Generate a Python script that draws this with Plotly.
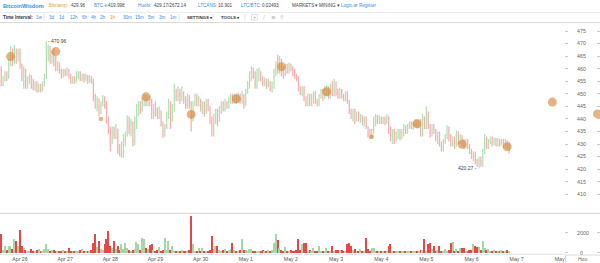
import plotly.graph_objects as go
import pandas as pd

W, H = 600, 263
FONT = "Liberation Sans, Arial, sans-serif"

# ---------------- data ----------------
start_time = "2014-04-25 14:00"   # first hourly candle
first_open = 460

close_px = [
    454, 456, 458, 457, 462, 466, 463, 467, 464, 466,
    461, 457, 459, 455, 456, 457, 455, 453, 454, 452, 453, 451.5, 454, 457, 466, 468, 463, 466, 463, 460, 462, 459, 457, 459,
    458, 459.5, 457, 455, 456, 455, 457.5, 458, 456, 457, 455.5, 457, 455, 456.5, 455, 448, 446, 448, 443, 446, 448, 446, 440, 436,
    431, 436, 433, 436, 428, 426, 429, 431, 434, 440, 436, 438, 430, 437, 444, 446, 444, 447, 448.5, 446, 448, 446.5, 441, 445,
    443, 441, 443, 438, 433, 437, 442, 446, 440, 444, 450, 448, 451, 448, 450, 447, 445, 448, 445, 440, 446, 449, 446, 447.5,
    444, 446, 443, 446.5, 444, 440, 436, 440, 443, 441, 444, 446, 444, 446, 445, 448, 449, 447, 449, 447, 449, 447.5, 449, 446,
    451, 453, 457, 460, 458, 453, 457, 459, 456, 454, 455.5, 454, 455, 452, 454, 459, 461, 459, 463, 460, 458, 461, 459, 461,
    460, 459, 457, 456, 452, 451, 452, 448, 447, 449, 446, 448, 450, 447, 446, 449, 451, 449, 451, 452, 450, 453, 450, 454,
    451, 449, 451, 449, 448, 450, 447, 443, 441, 443, 440, 442, 439.5, 441, 438, 440, 437, 434, 433, 435, 439, 441, 439, 440.5,
    439, 440, 438.5, 441, 436, 433, 435, 432, 434, 435.5, 433, 435, 436.5, 435, 437, 438, 436.5, 438, 439, 437.5, 439, 434, 440, 437,
    442, 437, 434, 437, 435, 432, 434, 430, 428, 431, 433, 436, 433, 430, 432, 429, 434, 431, 433, 430, 429, 431, 429, 427,
    425, 426, 423, 422, 424, 422, 427, 432, 429, 431, 432, 430, 431.5, 430, 431.5, 430, 431, 429.5, 431, 429, 430,
]
high_px = [
    461, 457, 459, 459, 464, 469, 468, 469.5, 468, 468,
    468, 462, 461, 460, 457, 458, 457.5, 456, 455, 455, 454, 454, 455, 458, 470.96, 469.5, 469, 467, 468, 465, 463, 462.5, 460, 460,
    460, 460.5, 460, 458, 457, 457, 459, 459, 459, 458, 458, 458, 457.5, 457.5, 457, 456, 450, 449, 448, 447, 449.5, 449, 447, 441,
    437, 437, 437, 438, 436, 430, 431, 434, 435, 441.5, 441, 440, 439, 441, 446, 447, 447, 448.5, 450, 449.5, 449, 449, 448, 446,
    447, 444.5, 445, 443.5, 439, 438, 443, 448, 447, 446, 454, 452, 453, 452, 453, 451, 449, 450, 449.5, 447, 447, 450, 450, 449,
    448, 447, 447, 448, 448, 445, 441, 442, 444, 444, 445, 447, 447, 448, 447, 449, 450, 450, 450, 450, 450.5, 450, 451, 450,
    452, 455, 459, 461, 460.5, 459, 460, 460.5, 459, 457, 456.5, 456, 456, 455, 455, 460, 463, 465.5, 465, 464, 461, 462, 462, 462.5,
    462, 461, 460, 458, 457, 453, 453, 453, 449, 450, 450, 450, 451, 451, 448, 450, 452, 452, 453, 453.5, 453, 454, 455, 456,
    455, 452, 452.5, 452, 450, 451, 451, 447.5, 444, 444, 444, 443, 443, 442, 441.5, 441, 441, 437, 436, 436, 441, 442, 441.5, 441.5,
    441, 441, 441, 442, 441, 437, 436, 436, 435, 436, 436, 436, 438, 437.5, 438, 439, 439, 439, 440, 440, 440, 440, 442, 441,
    445, 443, 438, 438, 438, 436, 435, 435, 431, 432, 434, 437.5, 437, 434, 433, 433, 435.5, 435, 434, 433.5, 432, 432, 432, 430,
    428, 427, 427, 424, 425, 425, 428, 434, 433, 432, 433, 433, 432.5, 432.5, 432.5, 432, 432, 432, 432, 431.5, 431,
]
low_px = [
    453, 453, 455, 455, 456, 461, 461, 462, 462, 463,
    460, 455, 452, 452, 452, 454, 452, 451.5, 451, 450.5, 450.5, 450.5, 451, 453, 456, 463, 462, 462, 461, 459, 459, 458, 456, 456.5,
    457, 457, 456, 454, 454, 454, 454.5, 456, 455, 455, 454.5, 455, 454, 454.5, 454, 447, 444, 443, 441, 442, 445, 444, 438, 434,
    427, 430, 432, 432, 426, 425, 424.5, 424.5, 429, 433, 434, 433, 429, 429.5, 436, 441, 442, 443, 445, 445, 445, 445, 440, 440,
    441, 440, 440, 437, 432.5, 433, 436, 440, 436, 439, 443, 447, 447, 446, 447, 446, 444, 444, 444, 435, 439, 445, 445, 445,
    443, 442, 441, 442, 443, 438, 433, 433, 438, 437, 439, 442, 443, 443, 444, 444, 446, 446, 446, 446, 446.5, 446, 446, 444,
    445, 450, 452, 455, 456, 452, 452, 455, 455, 453, 453, 452, 452.5, 451, 450.5, 452, 457, 458, 458, 457, 456, 457, 458, 458,
    459, 457, 456, 455, 451, 449.5, 449, 447, 445, 445, 445, 445, 446, 446, 445, 445, 448, 447, 448, 449, 448, 448, 449, 449,
    449, 448, 448, 448, 447, 447, 446, 442, 440, 439, 438, 439, 439, 438.5, 437.5, 437, 436, 432.5, 432, 432, 434, 437, 438, 438,
    438, 438, 437.5, 438, 434, 431, 430, 430, 431, 432, 431.5, 432, 433, 434, 434, 436, 436, 435.5, 437, 436.5, 436.5, 433, 433, 436,
    436, 436, 432.5, 433, 434, 431, 430, 429, 427, 427, 430, 432, 431, 429, 429, 428, 429, 430, 430, 429, 428, 428, 428, 426,
    424, 423, 422, 421, 420.27, 421, 421, 426, 428, 428, 430, 429, 429.5, 429, 429, 429, 429.5, 428.5, 428.5, 428, 426,
]
volume = [
    1900, 300, 650, 250, 650, 720, 400, 1330, 1160, 660,
    2230, 660, 500, 300, 200, 150, 350, 200, 150, 250, 400, 200, 150, 350, 900, 400, 200, 250, 300, 150, 200, 100, 150, 300,
    200, 150, 450, 200, 100, 100, 150, 100, 300, 350, 150, 100, 100, 200, 300, 1000, 1900, 550, 1160, 400, 300, 830, 1330, 2170,
    700, 500, 1160, 400, 660, 300, 830, 400, 1000, 500, 300, 200, 250, 350, 1100, 830, 300, 1500, 1400, 500, 400, 760, 830, 300,
    200, 300, 600, 200, 300, 1500, 300, 1160, 300, 660, 200, 150, 200, 150, 250, 150, 150, 200, 300, 3660, 830, 200, 150, 500,
    200, 500, 150, 150, 200, 300, 1660, 400, 660, 660, 300, 200, 300, 400, 200, 300, 400, 1000, 300, 200, 200, 300, 1330, 250,
    300, 200, 400, 350, 200, 200, 150, 150, 200, 250, 150, 200, 300, 200, 300, 1000, 1900, 1250, 500, 300, 200, 600, 200, 150,
    300, 200, 200, 300, 1330, 300, 830, 1000, 1000, 200, 300, 200, 500, 150, 200, 660, 200, 150, 200, 500, 150, 200, 660, 200,
    300, 300, 250, 300, 200, 150, 830, 1000, 660, 250, 330, 200, 200, 400, 150, 200, 1500, 400, 200, 500, 500, 200, 150, 150,
    150, 100, 150, 200, 660, 830, 200, 150, 150, 100, 150, 100, 150, 100, 150, 200, 150, 100, 150, 200, 150, 300, 300, 1330,
    200, 900, 1000, 400, 660, 200, 300, 660, 200, 150, 330, 200, 300, 1000, 1050, 200, 330, 200, 430, 430, 430, 200, 150, 300,
    300, 830, 660, 600, 600, 300, 1160, 500, 300, 400, 200, 150, 250, 200, 150, 200, 250, 150, 200, 250, 200,
]
circle_times = ["2014-04-25 19:00", "2014-04-26 19:00", "2014-04-27 19:00", "2014-04-28 19:00",
                "2014-04-29 19:00", "2014-04-30 19:00", "2014-05-01 19:00", "2014-05-02 19:00",
                "2014-05-03 19:00", "2014-05-04 19:00", "2014-05-05 19:00", "2014-05-06 19:00",
                "2014-05-07 19:00", "2014-05-08 19:00"]
circle_vals = [464.8, 466.8, 440.0, 448.8, 441.8, 448.0, 460.8, 450.8, 432.9, 438.0, 429.9, 428.9, 446.7, 442.0]

price_ticks = [410, 415, 420, 425, 430, 435, 440, 445, 450, 455, 460, 465, 470, 475]
volume_ticks = [0, 2000]
volume_ticktext = ["\u20070", "2000"]
date_ticks = ["2014-04-26", "2014-04-27", "2014-04-28", "2014-04-29", "2014-04-30", "2014-05-01",
              "2014-05-02", "2014-05-03", "2014-05-04", "2014-05-05", "2014-05-06", "2014-05-07", "2014-05-08"]
high_label = 470.96
low_label = 420.27

# ---------------- styles ----------------
circle_sizes = [9, 9, 4.5, 9, 9, 9, 9, 9, 4.5, 9, 9, 9, 9, 9]
UP, DOWN = "#b4e1b4", "#f6b0b0"
VUP, VDOWN = "#a3d7a3", "#e64848"
ORANGE = "rgba(214,128,46,0.86)"

times = pd.date_range(start_time, periods=len(close_px), freq="h")
opens = [first_open] + close_px[:-1]
vcolors = [VUP if c >= o else VDOWN for o, c in zip(opens, close_px)]

fig = go.Figure()
fig.add_trace(go.Bar(x=times, y=volume, marker_color=vcolors, marker_line_width=0,
                     width=0.7 * 3600 * 1000, xaxis="x", yaxis="y2", hoverinfo="skip"))
fig.add_trace(go.Ohlc(x=times, open=opens, high=high_px, low=low_px, close=close_px,
                      increasing=dict(line=dict(color=UP, width=1.3)),
                      decreasing=dict(line=dict(color=DOWN, width=1.3)),
                      tickwidth=0.3, xaxis="x", yaxis="y", hoverinfo="skip"))
fig.add_trace(go.Scatter(x=pd.to_datetime(circle_times), y=circle_vals, mode="markers",
                         marker=dict(size=circle_sizes, color=ORANGE, line=dict(width=0)),
                         xaxis="x", yaxis="y", hoverinfo="skip", cliponaxis=False))
# helper traces so the label axes exist
fig.add_trace(go.Scatter(x=[], y=[], xaxis="x", yaxis="y3", showlegend=False))
fig.add_trace(go.Scatter(x=[], y=[], xaxis="x", yaxis="y4", showlegend=False))

price_range = [403.74, 477.39]
vol_range = [-230, 3970]
dom_price = [(H - 210) / H, (H - 25) / H]
dom_vol = [(H - 255) / H, (H - 213) / H]

tickfont = dict(size=5.3, color="#666", family=FONT)

def px(x):
    return x / W

def py(y):
    return 1 - y / H

annotations = []

def ann(text, x, y, size=4.6, color="#444", bold=False, xanchor="left", family=FONT):
    annotations.append(dict(text=f"<b>{text}</b>" if bold else text, x=px(x), y=py(y),
                            xref="paper", yref="paper", xanchor=xanchor, yanchor="middle",
                            showarrow=False, borderpad=0, font=dict(size=size, color=color, family=family)))

BLUE = "#3a8ee6"
ann("BitcoinWisdom", 1.5, 6, size=5.6, color="#3b8fd9", bold=True)
ann("Bitstamp:", 48, 6, color="#f0a030")
ann("429.96", 70, 6)
ann("BTC-e:", 93, 6, color=BLUE)
ann("419.998", 107, 6)
ann("Huobi:", 137, 6, color=BLUE)
ann("429.17/2672.14", 153, 6)
ann("LTCANS:", 197, 6, color=BLUE)
ann("10.901", 217, 6)
ann("LTC/BTC:", 240, 6, color=BLUE)
ann("0.02493", 261, 6)
ann("MARKETS \u25be", 291, 6)
ann("MINING \u25be", 318, 6)
ann(f"<span style='color:{BLUE}'>Login</span> or <span style='color:{BLUE}'>Register</span>", 340, 6, color="#666")

ann("Time Interval:", 1.5, 17.3, color="#333", bold=True)
for lab, x in [("1w", 35), ("3d", 48), ("1d", 58), ("12h", 69), ("6h", 81), ("4h", 90), ("2h", 99),
               ("1h", 109), ("30m", 122), ("15m", 134), ("5m", 147), ("3m", 158), ("1m", 169)]:
    ann(lab, x, 17.3, color="#f08c1c" if lab == "1h" else BLUE)
ann("SETTINGS \u25be", 186, 17.3, color="#333", bold=True, size=4.4)
ann("TOOLS \u25be", 220, 17.3, color="#333", bold=True, size=4.4)
ann("+", 254.5, 17.3, color="#999", size=5, xanchor="center")
ann("\u2215", 263.5, 17.3, color="#bbb", size=5.5, xanchor="center", family="DejaVu Sans")
ann("\u2261", 273, 17.3, color="#aaa", size=5.5, xanchor="center", family="DejaVu Sans")
ann("\u26b2", 282, 17.3, color="#bbb", size=5, xanchor="center", family="DejaVu Sans")

# price extreme labels (data coords)
annotations.append(dict(text="- 470.96", x=times[24], y=high_label, xref="x", yref="y",
                        xanchor="left", yanchor="middle", xshift=1, showarrow=False, borderpad=0,
                        font=dict(size=5, color="#444", family=FONT)))
annotations.append(dict(text="420.27 -", x=times[254], y=low_label, xref="x", yref="y",
                        xanchor="right", yanchor="middle", xshift=-1, showarrow=False, borderpad=0,
                        font=dict(size=5, color="#444", family=FONT)))
ann("Hou", 577, 259.3, size=5, color="#666")

shapes = [
    dict(type="line", xref="paper", yref="paper", x0=0, x1=1, y0=py(12.3), y1=py(12.3),
         line=dict(color="#e8e8e8", width=1)),
    dict(type="line", xref="paper", yref="paper", x0=0, x1=1, y0=py(22.5), y1=py(22.5),
         line=dict(color="#d9d9d9", width=1)),
    dict(type="line", xref="paper", yref="paper", x0=0, x1=1, y0=py(213.3), y1=py(213.3),
         line=dict(color="#d6d6d6", width=1)),
    dict(type="line", xref="paper", yref="paper", x0=0, x1=px(565), y0=py(254.3), y1=py(254.3),
         line=dict(color="#e2e2e2", width=1)),
    dict(type="rect", xref="paper", yref="paper", x0=px(251.5), x1=px(257.5), y0=py(20), y1=py(14.5),
         line=dict(color="#ccc", width=0.6), fillcolor="rgba(0,0,0,0)"),
    dict(type="rect", xref="paper", yref="paper", x0=px(565.5), x1=1.01, y0=-0.01, y1=py(255),
         line=dict(color="#d0d0d0", width=0.8), fillcolor="white", layer="above"),
]
for sx in [44, 179, 213, 245]:
    shapes.append(dict(type="line", xref="paper", yref="paper", x0=px(sx), x1=px(sx),
                       y0=py(20.5), y1=py(14), line=dict(color="#dddddd", width=0.8)))

fig.update_layout(
    width=W, height=H, margin=dict(l=0, r=0, t=0, b=0),
    paper_bgcolor="white", plot_bgcolor="white", showlegend=False, bargap=0,
    font=dict(family=FONT),
    xaxis=dict(type="date", range=["2014-04-25 13:22:08", "2014-05-08 20:18:35"], domain=[0, 1],
               anchor="y2", rangeslider=dict(visible=False), showgrid=False, zeroline=False,
               tickvals=pd.to_datetime(date_ticks), tickformat="%b %-d", ticks="", ticklen=0,
               tickfont=dict(size=5.2, color="#555", family=FONT), showline=False),
    yaxis=dict(domain=dom_price, range=price_range, side="right", anchor="x", tickvals=price_ticks,
               ticks="inside", ticklen=3, tickcolor="#c8c8c8", showticklabels=False,
               showgrid=False, zeroline=False, showline=False),
    yaxis2=dict(domain=dom_vol, range=vol_range, side="right", anchor="x", tickvals=volume_ticks,
                ticks="inside", ticklen=3, tickcolor="#c8c8c8", showticklabels=False,
                showgrid=False, zeroline=False, showline=False),
    yaxis3=dict(overlaying="y", anchor="free", position=0.94, side="right", range=price_range,
                tickvals=price_ticks, ticks="outside", ticklen=3, tickcolor="#c8c8c8",
                tickfont=tickfont, ticklabelstandoff=8, showgrid=False, zeroline=False, showline=False),
    yaxis4=dict(overlaying="y2", anchor="free", position=0.94, side="right", range=vol_range,
                tickvals=volume_ticks, ticktext=volume_ticktext, ticks="outside", ticklen=3,
                tickcolor="#c8c8c8", tickfont=tickfont, ticklabelstandoff=8,
                showgrid=False, zeroline=False, showline=False),
    annotations=annotations, shapes=shapes,
)

fig.write_html("out.html")
